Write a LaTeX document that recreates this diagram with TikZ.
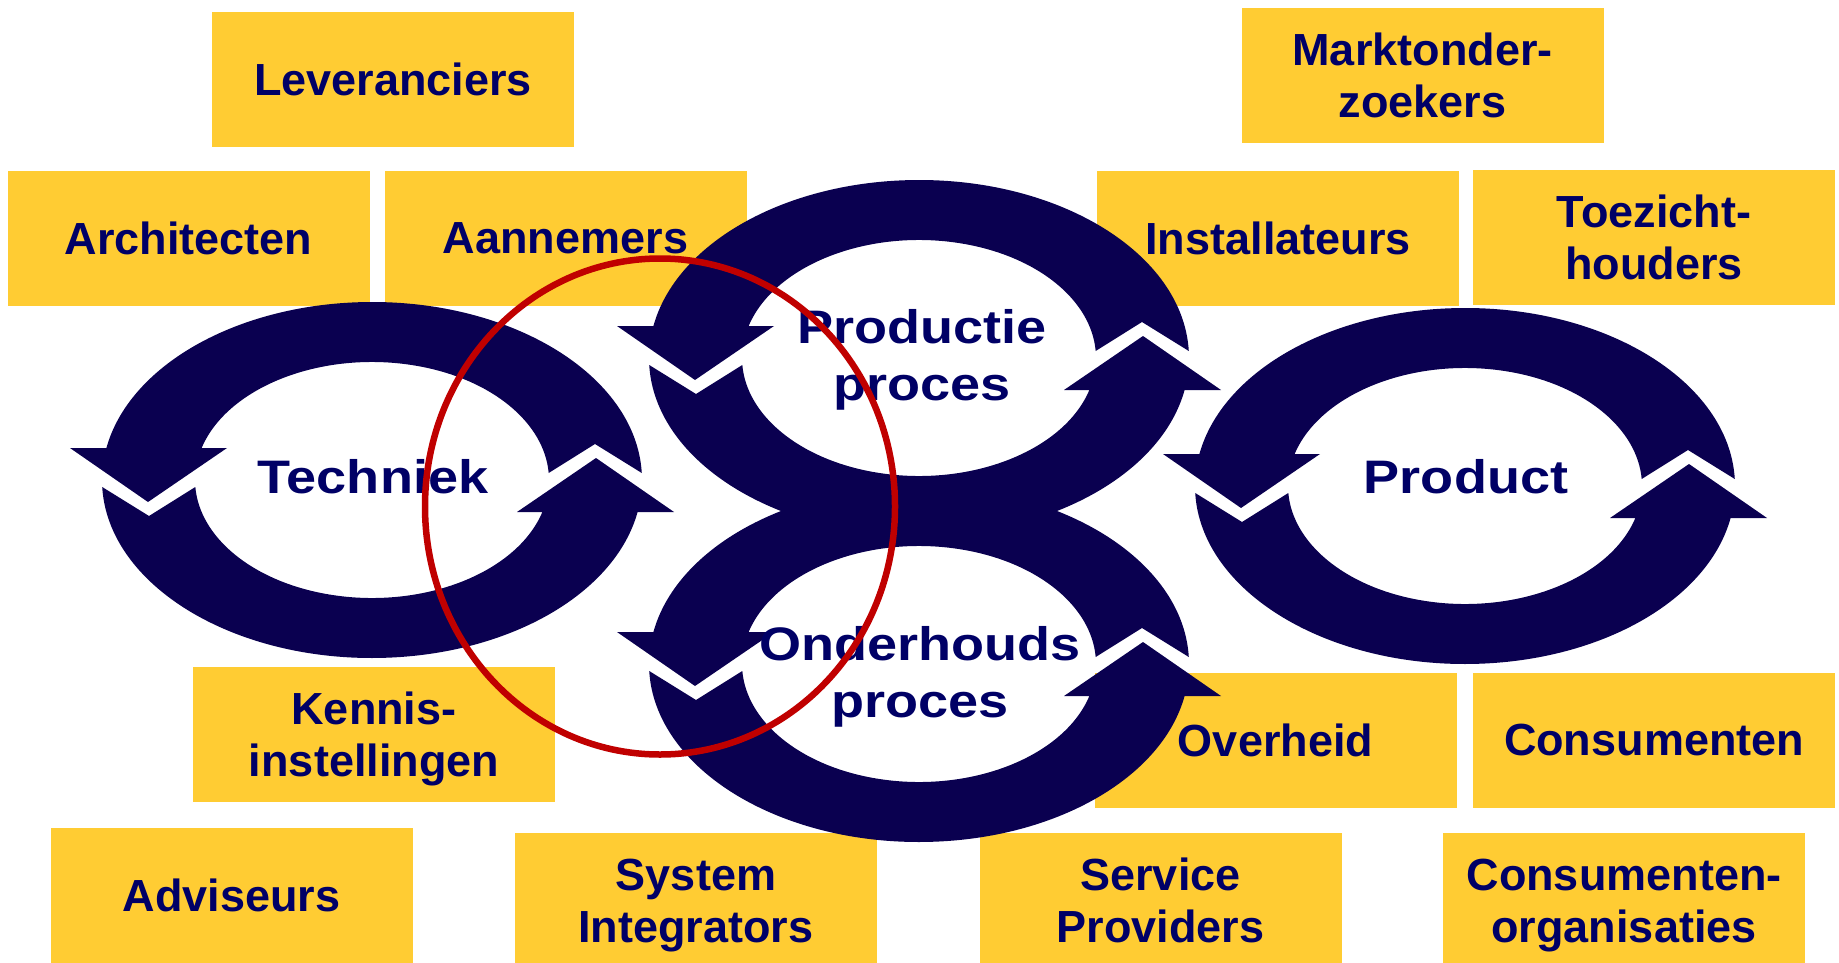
\documentclass[tikz,border=0pt]{standalone}
\usepackage{fontspec}
\setmainfont{Liberation Sans}
\newfontfamily\ringfont{Liberation Sans}[FakeStretch=1.15]
\definecolor{boxy}{RGB}{255,204,51}
\definecolor{ringc}{RGB}{10,0,80}
\definecolor{txt}{RGB}{0,0,102}
\definecolor{redc}{RGB}{192,0,0}
\tikzset{
  ybox/.style={fill=boxy, minimum width=362pt, minimum height=135pt, inner sep=0pt,
    align=center, text=txt, text depth=0pt, font=\bfseries\fontsize{45}{52}\selectfont},
  ringlabel/.style={align=center, text=txt, inner sep=0pt, text depth=0pt,
    font=\ringfont\bfseries\fontsize{47}{57}\selectfont},
  cycring/.pic={
    \fill[ringc] (2.254:270pt and 178pt)
      arc[start angle=2.254, end angle=169.643, x radius=270pt, y radius=178pt]
      -- (-302,32) -- (-224,-22) -- (-145,32)
      -- (164.265:177pt and 118pt)
      arc[start angle=164.265, end angle=3.40, x radius=177pt, y radius=118pt]
      -- (223,36) -- cycle;
    \fill[ringc] (182.254:270pt and 178pt)
      arc[start angle=182.254, end angle=349.643, x radius=270pt, y radius=178pt]
      -- (302,-32) -- (224,22) -- (145,-32)
      -- (344.265:177pt and 118pt)
      arc[start angle=344.265, end angle=183.40, x radius=177pt, y radius=118pt]
      -- (-223,-36) -- cycle;
  }
}
\begin{document}
\begin{tikzpicture}[x=1pt,y=1pt]
\useasboundingbox (0,0) rectangle (1839,-963);
\clip (0,0) rectangle (1839,-963);
\fill[white] (0,0) rectangle (1839,-963);
% boxes
\node[ybox] (lev) at (393,-79.5) {Leveranciers};
\node[ybox] (mark) at (1422.5,-75.5) {Marktonder-\\zoekers};
\node[ybox] (arch) at (188.5,-238.5) {Architecten};
\node[ybox] (aan) at (565.5,-238.5) {Aannemers};
\node[ybox] (inst) at (1278,-238.5) {Installateurs};
\node[ybox] (toez) at (1654,-237) {Toezicht-\\houders};
\node[ybox] (kenn) at (374,-734.5) {Kennis-\\instellingen};
\node[ybox] (overh) at (1275.5,-740) {Overheid};
\node[ybox] (cons) at (1654,-740) {Consumenten};
\node[ybox] (adv) at (231.5,-895.5) {Adviseurs};
\node[ybox] (sysi) at (696,-900.5) {System\\Integrators};
\node[ybox] (serv) at (1160.5,-900.5) {Service\\Providers};
\node[ybox] (corg) at (1624,-900.5) {Consumenten-\\organisaties};
% rings
\pic at (372,-480) {cycring};
\pic at (919,-358) {cycring};
\pic at (919,-664) {cycring};
\pic at (1465,-486) {cycring};
% ring labels
\node[ringlabel] (tech) at (373,-476) {Techniek};
\node[ringlabel] (prod) at (922,-354.5) {Productie\\proces};
\node[ringlabel] (onder) at (920,-671.5) {Onderhouds\\proces};
\node[ringlabel] (product) at (1466,-476) {Product};
% red circle
\draw[redc, line width=6.5pt] (660,-506.5) ellipse [x radius=235pt, y radius=248pt];
\end{tikzpicture}
\end{document}
